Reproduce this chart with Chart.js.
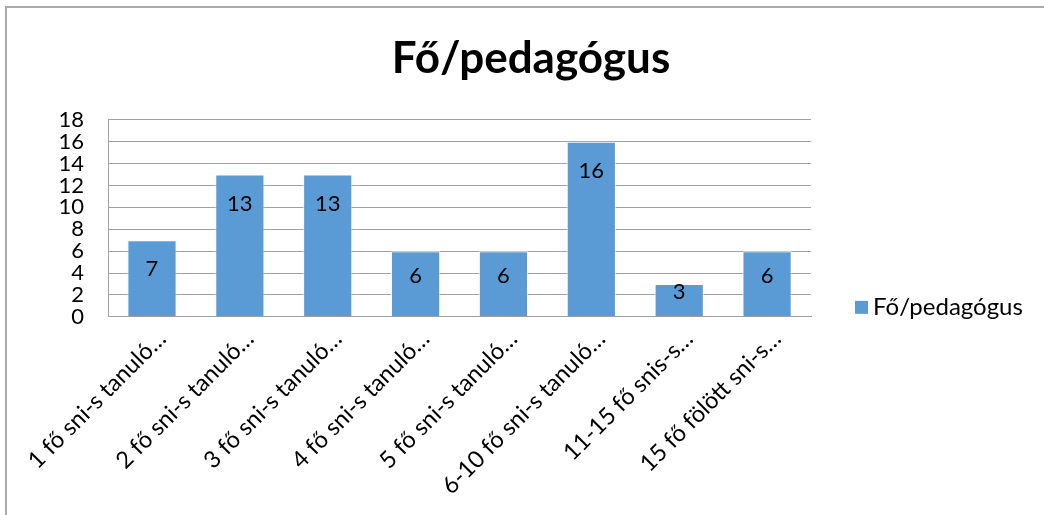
<!DOCTYPE html>
<html>
<head>
<meta charset="utf-8">
<script src="https://cdn.jsdelivr.net/npm/chart.js@4/dist/chart.umd.min.js"></script>
<style>
    html, body { margin: 0; padding: 0; background: #fff; overflow: hidden; }
    #frame { position: absolute; left: 5px; top: 6px; width: 1100px; height: 600px; border: 2px solid #aaa; }
    #wrap { position: absolute; left: 8px; top: 9px; width: 1046px; height: 506px; }
</style>
</head>
<body>
<div id="frame"></div>
<div id="wrap"><canvas id="chart"></canvas></div>
<script>
const categories = [
    '1 fő sni-s tanuló…',
    '2 fő sni-s tanuló…',
    '3 fő sni-s tanuló…',
    '4 fő sni-s tanuló…',
    '5 fő sni-s tanuló…',
    '6-10 fő sni-s tanuló…',
    '11-15 fő snis-s…',
    '15 fő fölött sni-s…'
];
const values = [7, 13, 13, 6, 6, 16, 3, 6];
const seriesName = 'Fő/pedagógus';
const titleText = 'Fő/pedagógus';

const fontFamily = 'Lato, "Liberation Sans", sans-serif';
const barColor = '#5b9bd5';

// draws the value inside the top end of each bar
const insideEndLabels = {
    id: 'insideEndLabels',
    afterDatasetsDraw(chart) {
        const ctx = chart.ctx;
        const meta = chart.getDatasetMeta(0);
        ctx.save();
        ctx.font = '22px ' + fontFamily;
        ctx.fillStyle = '#000';
        ctx.textAlign = 'center';
        ctx.textBaseline = 'middle';
        meta.data.forEach((bar, i) => {
            const h = bar.base - bar.y;
            const off = Math.min(29, h / 2 - 8);
            ctx.fillText(String(values[i]), bar.x, bar.y + off);
        });
        ctx.restore();
    }
};

// legend to the right, near the bottom of the plot
const sideLegend = {
    id: 'sideLegend',
    afterDraw(chart) {
        const ctx = chart.ctx;
        const area = chart.chartArea;
        const x = area.right + 44;
        const y = area.bottom - 10;
        ctx.save();
        ctx.fillStyle = barColor;
        ctx.fillRect(x, y - 6, 13, 13);
        ctx.fillStyle = '#000';
        ctx.font = '24px ' + fontFamily;
        ctx.textAlign = 'left';
        ctx.textBaseline = 'middle';
        ctx.fillText(chart.data.datasets[0].label, x + 18, y);
        ctx.restore();
    }
};

document.addEventListener('DOMContentLoaded', function() {
    const ctx = document.getElementById('chart');
    new Chart(ctx.getContext('2d'), {
        type: 'bar',
        data: {
            labels: categories,
            datasets: [{
                label: seriesName,
                data: values,
                backgroundColor: barColor,
                borderColor: 'rgba(255,255,255,0.8)',
                borderWidth: 1,
                categoryPercentage: 0.56,
                barPercentage: 1
            }]
        },
        options: {
            responsive: true,
            maintainAspectRatio: false,
            animation: false,
            layout: { padding: { left: 0, right: 0, top: 0, bottom: 7 } },
            scales: {
                x: {
                    grid: { display: false, drawTicks: false },
                    border: { color: '#a0a0a0', width: 1 },
                    ticks: {
                        color: '#000',
                        font: { family: fontFamily, size: 23.5 },
                        maxRotation: 45,
                        minRotation: 45,
                        autoSkip: false,
                        labelOffset: 10,
                        padding: 8
                    }
                },
                y: {
                    min: 0,
                    max: 18,
                    afterFit(scale) { scale.width = 100; },
                    ticks: {
                        stepSize: 2,
                        autoSkip: false,
                        color: '#000',
                        font: { family: fontFamily, size: 22, lineHeight: 1 },
                        padding: 24
                    },
                    grid: { color: '#a0a0a0', drawTicks: false },
                    border: { color: '#a0a0a0', width: 1 }
                },
                // empty axis on the right only keeps room for the legend
                side: {
                    position: 'right',
                    display: true,
                    afterFit(scale) { scale.width = 243; },
                    ticks: { display: false },
                    grid: { display: false, drawTicks: false },
                    border: { display: false }
                }
            },
            plugins: {
                title: {
                    display: true,
                    text: titleText,
                    color: '#000',
                    font: { family: fontFamily, size: 44, weight: 'bold' },
                    padding: { top: 23, bottom: 35 }
                },
                legend: { display: false },
                tooltip: { enabled: false }
            }
        },
        plugins: [insideEndLabels, sideLegend]
    });
});
</script>
</body>
</html>
